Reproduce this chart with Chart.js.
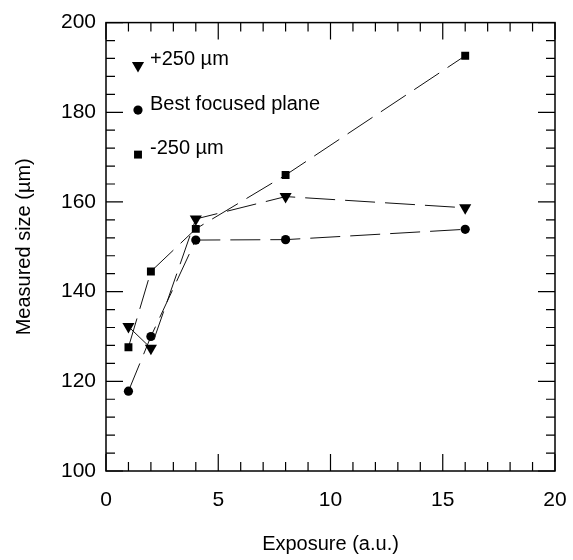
<!DOCTYPE html>
<html>
<head>
<meta charset="utf-8">
<script src="https://cdn.jsdelivr.net/npm/chart.js@4"></script>
<style>
  html, body { margin: 0; padding: 0; background: #fff; }
</style>
</head>
<body>
<canvas id="myChart" width="573" height="560"></canvas>
<script>
// data
const exposure = [1, 2, 4, 8, 16];
const seriesLabels = ['+250 µm', 'Best focused plane', '-250 µm'];
const plus250 = [132.2, 127.4, 156.2, 161.2, 158.7];
const bestFocus = [117.8, 130.0, 151.5, 151.6, 153.9];
const minus250 = [127.6, 144.5, 154.0, 166.0, 192.6];
const xTicks = [0, 5, 10, 15, 20];
const yTicks = [100, 120, 140, 160, 180, 200];

const FONT = '"Liberation Sans", Arial, sans-serif';
Chart.defaults.font.family = FONT;
Chart.defaults.color = '#000';

const pts = (ys) => exposure.map((x, i) => ({ x: x, y: ys[i] }));

function series(label, ys, style, radius, rotation) {
  return {
    label: label,
    data: pts(ys),
    showLine: true,
    borderColor: '#111',
    borderWidth: 1,
    borderDash: [30, 10],
    pointStyle: style,
    pointRadius: radius,
    pointRotation: rotation,
    pointBackgroundColor: '#000',
    pointBorderColor: '#000',
    pointBorderWidth: 0
  };
}

// box round the plot, ticks pointing inwards on all four sides
const frameTicks = {
  id: 'frameTicks',
  afterDatasetsDraw(chart) {
    const { ctx, chartArea: a, scales: { x, y } } = chart;
    ctx.save();
    ctx.strokeStyle = '#000';
    ctx.lineWidth = 1.5;
    ctx.strokeRect(a.left, a.top, a.right - a.left, a.bottom - a.top);
    ctx.lineWidth = 1.2;
    ctx.beginPath();
    for (let v = x.min; v <= x.max; v += 1) {
      const px = x.getPixelForValue(v);
      const len = v % 5 === 0 ? 17 : 9;
      ctx.moveTo(px, a.bottom); ctx.lineTo(px, a.bottom - len);
      ctx.moveTo(px, a.top); ctx.lineTo(px, a.top + len);
    }
    for (let v = y.min; v <= y.max; v += 4) {
      const py = y.getPixelForValue(v);
      const len = (v - y.min) % 20 === 0 ? 17 : 9;
      ctx.moveTo(a.left, py); ctx.lineTo(a.left + len, py);
      ctx.moveTo(a.right, py); ctx.lineTo(a.right - len, py);
    }
    ctx.stroke();
    ctx.restore();
  }
};

// legend sits inside the plot, top left
const insideLegend = {
  id: 'insideLegend',
  afterDraw(chart) {
    const { ctx, chartArea: a } = chart;
    ctx.save();
    ctx.font = '20px ' + FONT;
    ctx.textBaseline = 'middle';
    chart.data.datasets.forEach((ds, i) => {
      const mx = a.left + 32;
      const my = a.top + 43 + 44.5 * i;
      ctx.fillStyle = '#000';
      ctx.strokeStyle = '#000';
      Chart.helpers.drawPoint(ctx, {
        pointStyle: ds.pointStyle,
        radius: ds.pointRadius,
        rotation: ds.pointRotation,
        borderWidth: 0
      }, mx, my);
      ctx.fillText(ds.label, a.left + 44, my - 6);
    });
    ctx.restore();
  }
};

const ctx = document.getElementById('myChart').getContext('2d');
const chart = new Chart(ctx, {
  type: 'scatter',
  data: {
    datasets: [
      series(seriesLabels[0], plus250, 'triangle', 7, 180),
      series(seriesLabels[1], bestFocus, 'circle', 4.6, 0),
      series(seriesLabels[2], minus250, 'rect', 5.6, 0)
    ]
  },
  options: {
    responsive: false,
    animation: false,
    layout: { padding: { top: 22, right: 18, left: 0, bottom: 0 } },
    plugins: { legend: { display: false }, tooltip: { enabled: false } },
    scales: {
      x: {
        type: 'linear',
        min: 0, max: 20,
        afterBuildTicks: (s) => { s.ticks = xTicks.map(v => ({ value: v })); },
        ticks: { font: { size: 21 }, color: '#000', padding: 17 },
        grid: { display: false, drawTicks: false },
        border: { display: false },
        title: { display: true, text: 'Exposure (a.u.)', font: { size: 20 }, color: '#000', padding: { top: 14 } },
        // fixed axis band; label overhang is covered by the layout padding
        afterFit: (s) => { s.height = 89; s.paddingLeft = 0; s.paddingRight = 0; }
      },
      y: {
        type: 'linear',
        min: 100, max: 200,
        afterBuildTicks: (s) => { s.ticks = yTicks.map(v => ({ value: v })); },
        ticks: { font: { size: 21 }, color: '#000', padding: 10 },
        grid: { display: false, drawTicks: false },
        border: { display: false },
        title: { display: true, text: 'Measured size (µm)', font: { size: 20 }, color: '#000', padding: { top: 12, bottom: 4 } },
        afterFit: (s) => { s.width = 106; }
      }
    }
  },
  plugins: [frameTicks, insideLegend]
});
</script>
</body>
</html>
